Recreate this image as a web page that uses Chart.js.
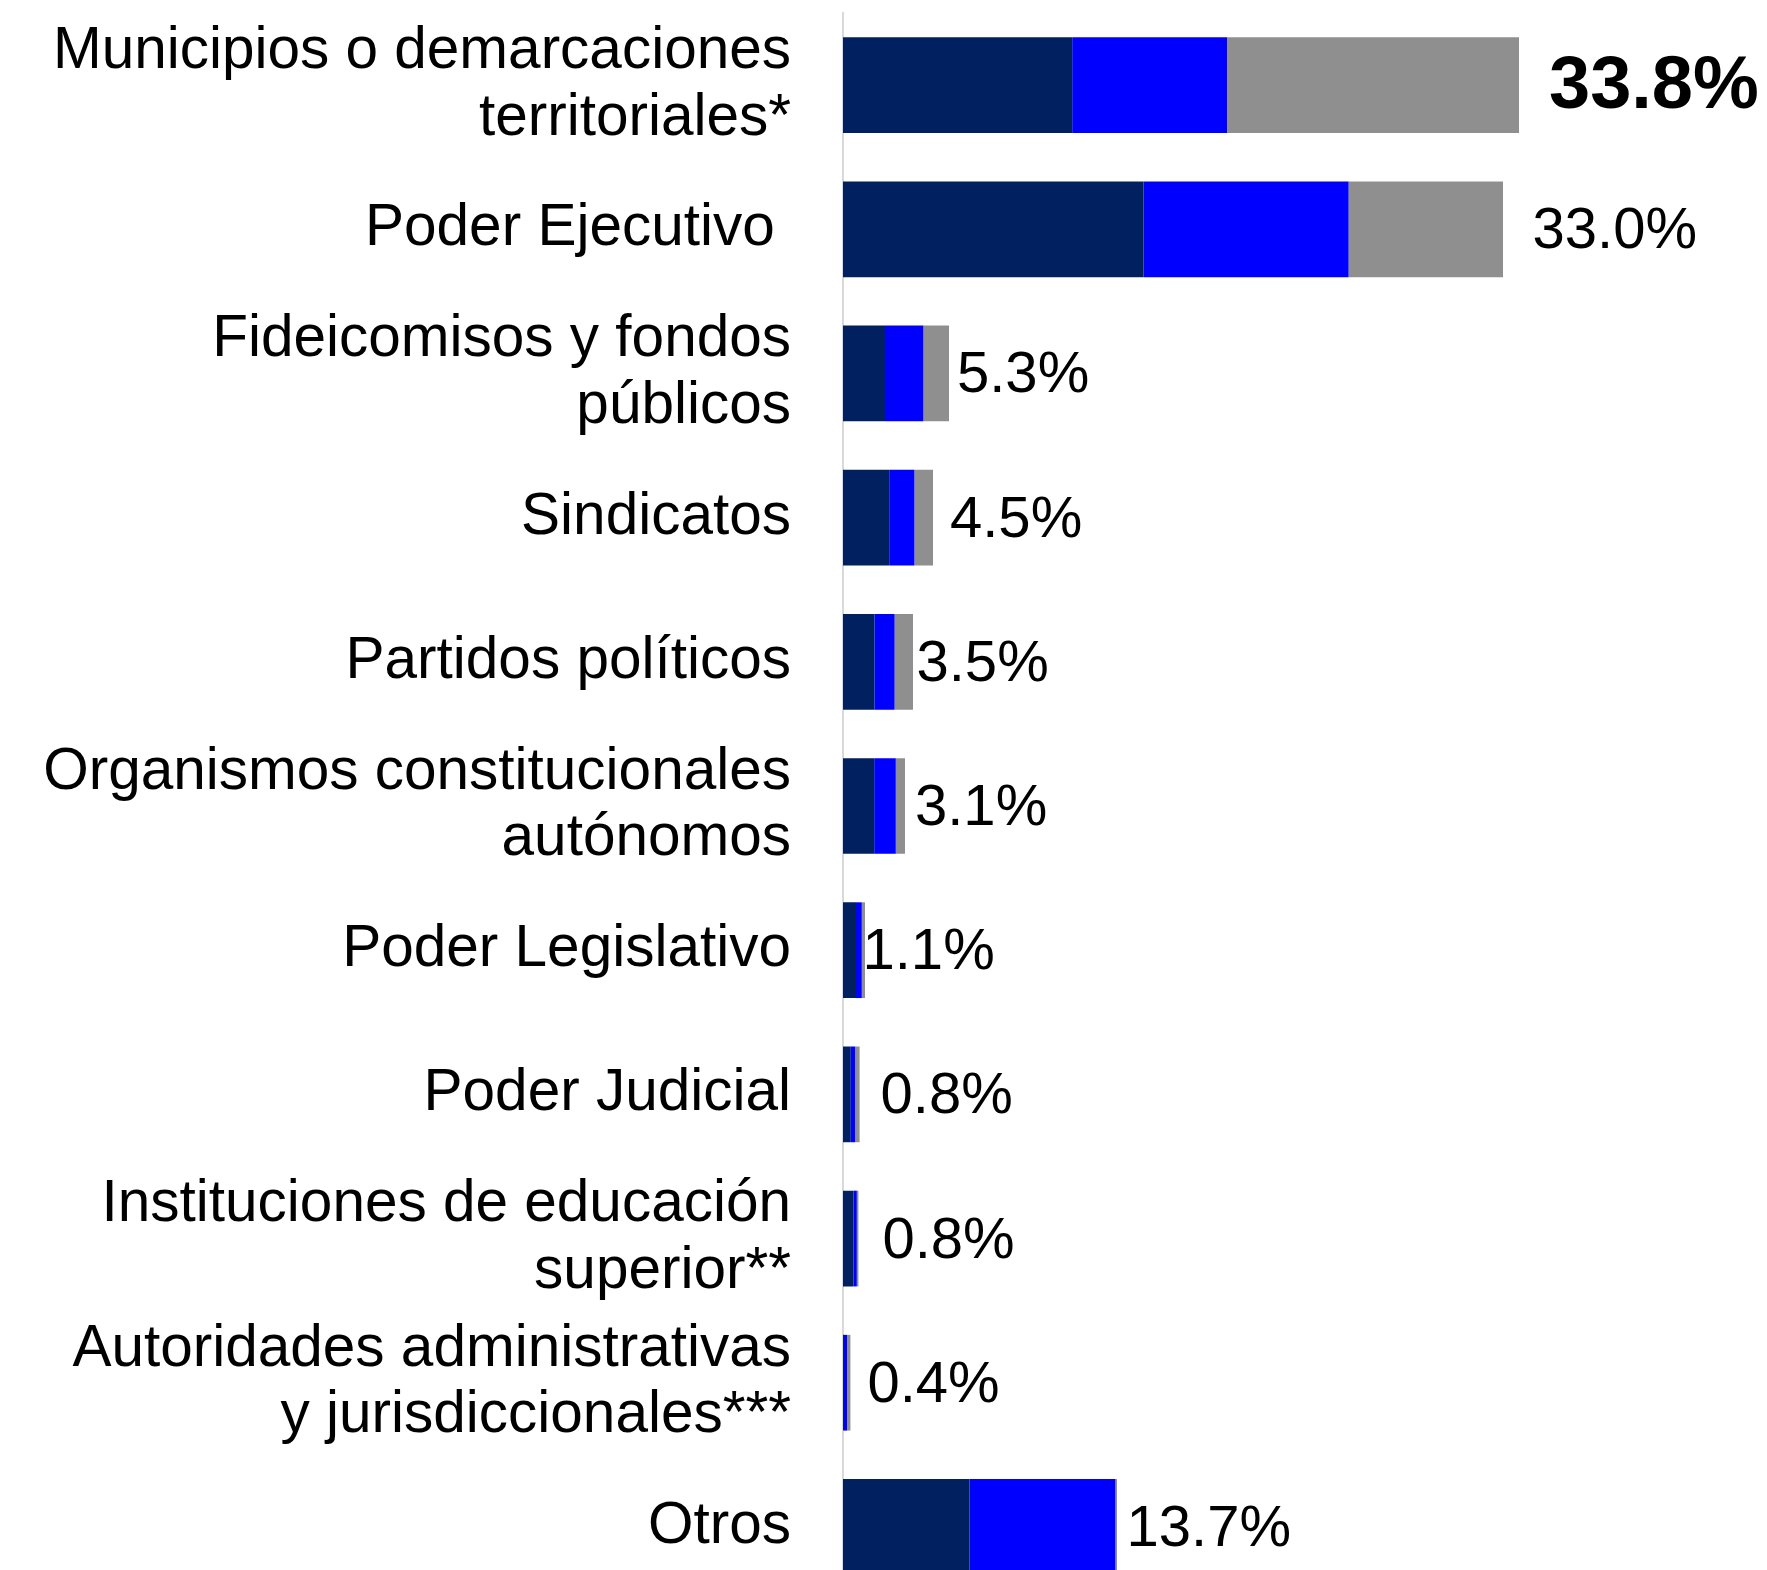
<!DOCTYPE html>
<html>
<head>
<meta charset="utf-8">
<script src="https://cdn.jsdelivr.net/npm/chart.js@4/dist/chart.umd.min.js"></script>
<style>
html,body{margin:0;padding:0;background:#fff;overflow:hidden;}
canvas{display:block;}
</style>
</head>
<body>
<canvas id="c" width="1767" height="1600"></canvas>
<script>
const categories = [
  ["Municipios o demarcaciones", "territoriales*"],
  "Poder Ejecutivo ",
  ["Fideicomisos y fondos", "públicos"],
  "Sindicatos",
  "Partidos políticos",
  ["Organismos constitucionales", "autónomos"],
  "Poder Legislativo",
  "Poder Judicial",
  ["Instituciones de educación", "superior**"],
  ["Autoridades administrativas", "y jurisdiccionales***"],
  "Otros"
];
const serie1 = [11.46, 15.03, 2.10, 2.31, 1.58, 1.56, 0.65, 0.39, 0.52, 0.05, 6.32];
const serie2 = [7.74, 10.25, 1.92, 1.26, 1.00, 1.08, 0.29, 0.22, 0.17, 0.15, 7.30];
const serie3 = [14.60, 7.72, 1.28, 0.93, 0.92, 0.46, 0.16, 0.22, 0.08, 0.17, 0.08];
const totals = [33.8, 33.0, 5.3, 4.5, 3.5, 3.1, 1.1, 0.8, 0.8, 0.4, 13.7];

// style: horizontal gap (px) between bar end and its total label
const labelGaps = [30, 29.5, 8, 17, 3.5, 10, -2.5, 21, 24, 17, 9.5];

const FONT = "'Liberation Sans', Arial, sans-serif";

const totalsPlugin = {
  id: 'totals',
  afterDatasetsDraw(chart) {
    const ctx = chart.ctx;
    const xs = chart.scales.x, ys = chart.scales.y;
    ctx.save();
    ctx.fillStyle = '#000';
    ctx.textAlign = 'left';
    ctx.textBaseline = 'middle';
    totals.forEach((t, i) => {
      const end = serie1[i] + serie2[i] + serie3[i];
      const x = xs.getPixelForValue(end) + labelGaps[i];
      const y = ys.getPixelForValue(i) + 3;
      ctx.font = (i === 0 ? 'bold 74px ' : '58px ') + FONT;
      ctx.fillText(t.toFixed(1) + '%', x, y);
    });
    ctx.restore();
  }
};

new Chart(document.getElementById('c'), {
  type: 'bar',
  data: {
    labels: categories,
    datasets: [
      { label: 'Serie 1', data: serie1, backgroundColor: '#002060', borderWidth: 0 },
      { label: 'Serie 2', data: serie2, backgroundColor: '#0000ff', borderWidth: 0 },
      { label: 'Serie 3', data: serie3, backgroundColor: '#8f8f8f', borderWidth: 0 }
    ]
  },
  options: {
    indexAxis: 'y',
    responsive: false,
    animation: false,
    devicePixelRatio: 1,
    categoryPercentage: 1,
    barPercentage: 0.664,
    layout: { padding: { top: 13, bottom: 1, left: 0, right: 24 } },
    plugins: { legend: { display: false }, tooltip: { enabled: false } },
    scales: {
      x: {
        stacked: true,
        display: false,
        min: 0,
        max: 45
      },
      y: {
        stacked: true,
        grid: { display: false, drawTicks: false },
        border: { display: true, color: '#d9d9d9', width: 2 },
        ticks: {
          color: '#000',
          padding: 52,
          font: { family: FONT, size: 58.5, lineHeight: 1.14 }
        },
        afterFit(scale) {
          scale.width = 843;
          scale.paddingTop = 0;
          scale.paddingBottom = 0;
        }
      }
    }
  },
  plugins: [totalsPlugin]
});
</script>
</body>
</html>
